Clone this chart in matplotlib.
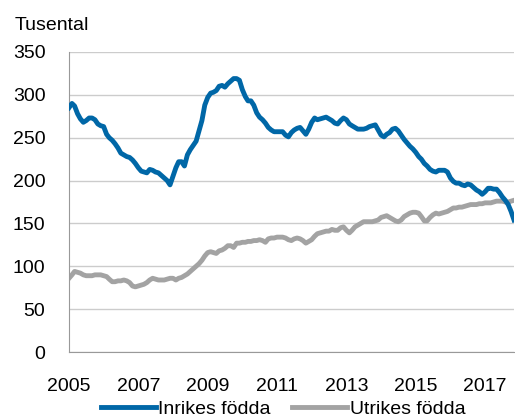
import matplotlib
matplotlib.use("Agg")
import matplotlib.pyplot as plt
import pandas as pd

plt.rcParams['font.family'] = ['Liberation Sans', 'DejaVu Sans']

# Sysselsatta, tusental, månadsdata jan 2005 - nov 2017
inrikes = [
    285, 290, 287, 278, 272, 268, 270, 273, 273, 271, 266, 264,  # 2005
    263, 254, 250, 247, 243, 238, 232, 230, 228, 227, 224, 220,  # 2006
    215, 211, 210, 209, 213, 212, 210, 209, 206, 203, 200, 195,  # 2007
    205, 215, 222, 222, 217, 230, 236, 241, 246, 258, 270, 288,  # 2008
    297, 302, 303, 305, 310, 311, 309, 313, 316, 319, 319, 317,  # 2009
    306, 298, 293, 293, 288, 279, 274, 271, 267, 262, 259, 257,  # 2010
    257, 257, 257, 253, 251, 256, 259, 261, 262, 258, 254, 260,  # 2011
    268, 273, 271, 272, 273, 274, 272, 270, 267, 266, 270, 273,  # 2012
    271, 266, 264, 262, 260, 260, 260, 261, 263, 264, 265, 259,  # 2013
    253, 251, 254, 256, 260, 261, 258, 253, 248, 244, 240, 237,  # 2014
    233, 228, 225, 220, 217, 213, 211, 210, 212, 212, 212, 210,  # 2015
    203, 199, 197, 197, 195, 194, 196, 195, 192, 189, 187, 184,  # 2016
    187, 191, 191, 190, 190, 186, 181, 177, 172, 164, 154,       # 2017
]
utrikes = [
    86, 90, 94, 93, 92, 90, 89, 89, 89, 90, 90, 90,              # 2005
    89, 88, 85, 82, 82, 83, 83, 84, 83, 81, 77, 76,              # 2006
    77, 78, 79, 81, 84, 86, 85, 84, 84, 84, 85, 86,              # 2007
    86, 84, 86, 87, 89, 91, 94, 97, 100, 103, 107, 112,          # 2008
    116, 117, 116, 115, 118, 119, 121, 124, 124, 122, 127, 127,  # 2009
    128, 128, 129, 129, 130, 130, 131, 130, 128, 132, 133, 133,  # 2010
    134, 134, 134, 133, 131, 130, 132, 133, 132, 130, 127, 129,  # 2011
    131, 135, 138, 139, 140, 141, 141, 143, 142, 142, 145, 146,  # 2012
    142, 139, 142, 146, 148, 150, 152, 152, 152, 152, 153, 154,  # 2013
    157, 158, 159, 157, 155, 153, 152, 154, 158, 160, 162, 163,  # 2014
    163, 162, 158, 153, 153, 157, 160, 162, 161, 162, 163, 164,  # 2015
    166, 168, 168, 169, 169, 170, 171, 172, 172, 172, 173, 173,  # 2016
    174, 174, 174, 175, 176, 176, 176, 175, 175, 176, 177,       # 2017
]
datum = pd.date_range("2005-01-01", periods=len(inrikes), freq="MS")
ar_etiketter = ["2005", "2007", "2009", "2011", "2013", "2015", "2017"]

fig = plt.figure(figsize=(5.15, 4.19), dpi=100)
ax = fig.add_axes([69 / 515, 67 / 419, 445 / 515, 300 / 419])

ax.plot(datum, inrikes, color="#0067a7", lw=3.5, label="Inrikes födda",
        solid_joinstyle="round", zorder=3)
ax.plot(datum, utrikes, color="#a3a3a3", lw=3.5, label="Utrikes födda",
        solid_joinstyle="round", zorder=2)

ax.set_ylim(0, 350)
ax.set_yticks(range(0, 351, 50))
ax.set_xlim(datum[0], datum[-1])
ax.set_xticks([pd.Timestamp(a + "-01-01") for a in ar_etiketter])
ax.set_xticklabels(ar_etiketter)

ax.grid(axis="y", color="#cccccc", lw=1)
ax.set_axisbelow(True)
for s in ["top", "right"]:
    ax.spines[s].set_visible(False)
ax.spines["left"].set_color("#999999")
ax.spines["bottom"].set_color("#999999")
ax.tick_params(length=0, labelsize=14, colors="black")
ax.tick_params(axis="y", pad=17)
ax.tick_params(axis="x", pad=19)

fig.text(15 / 515, 1 - 26 / 419, "Tusental", fontsize=14, va="center")

fig.legend(loc="center", bbox_to_anchor=(0.55, 10 / 419), ncol=2,
           frameon=False, fontsize=14, handlelength=2.8,
           handletextpad=0.15, columnspacing=1.1)

fig.savefig("out.png", dpi=100)
